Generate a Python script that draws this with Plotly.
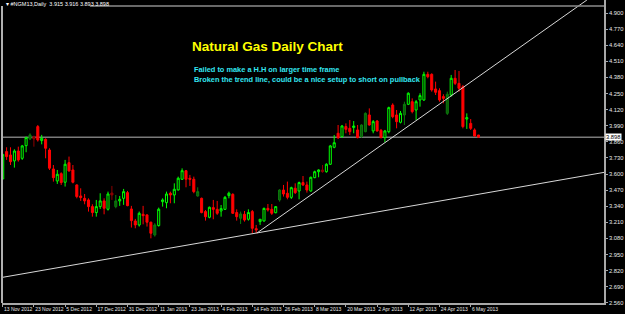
import plotly.graph_objects as go

# ---------------- data ----------------
bar_index = list(range(123))

open_ = [3.560, 3.781, 3.754, 3.706, 3.786, 3.727, 3.829, 3.883, 3.902, 3.983,
         3.870, 3.880, 3.794, 3.641, 3.544, 3.603, 3.534, 3.692, 3.633, 3.512,
         3.423, 3.404, 3.391, 3.337, 3.289, 3.337, 3.383, 3.316, 3.447, 3.337,
         3.383, 3.404, 3.450, 3.318, 3.221, 3.189, 3.275, 3.270, 3.211, 3.108,
         3.184, 3.377, 3.369, 3.445, 3.431, 3.472, 3.558, 3.627, 3.566, 3.558,
         3.423, 3.404, 3.297, 3.251, 3.329, 3.315, 3.302, 3.315, 3.426, 3.436,
         3.289, 3.243, 3.275, 3.235, 3.297, 3.159, 3.216, 3.221, 3.323, 3.315,
         3.288, 3.391, 3.471, 3.445, 3.412, 3.485, 3.463, 3.531, 3.512, 3.463,
         3.571, 3.619, 3.633, 3.619, 3.679, 3.816, 3.929, 3.902, 3.983, 3.969,
         3.975, 3.956, 3.902, 3.942, 4.077, 3.948, 4.028, 3.953, 3.894, 3.942,
         4.157, 4.077, 4.018, 4.077, 4.163, 4.184, 4.117, 4.198, 4.198, 4.405,
         4.405, 4.287, 4.273, 4.225, 4.090, 4.238, 4.373, 4.332, 4.305, 4.044,
         4.009, 3.956, 3.915]
high = [3.759, 3.816, 3.816, 3.800, 3.821, 3.835, 3.902, 3.929, 3.910, 3.996,
        3.916, 3.889, 3.808, 3.673, 3.633, 3.614, 3.714, 3.741, 3.673, 3.517,
        3.485, 3.439, 3.404, 3.356, 3.391, 3.445, 3.404, 3.458, 3.504, 3.431,
        3.423, 3.480, 3.464, 3.343, 3.238, 3.297, 3.343, 3.275, 3.216, 3.203,
        3.329, 3.404, 3.458, 3.458, 3.525, 3.579, 3.646, 3.633, 3.593, 3.579,
        3.493, 3.410, 3.310, 3.337, 3.391, 3.383, 3.350, 3.423, 3.458, 3.445,
        3.315, 3.297, 3.302, 3.315, 3.310, 3.189, 3.237, 3.329, 3.358, 3.358,
        3.342, 3.477, 3.512, 3.539, 3.498, 3.525, 3.539, 3.584, 3.539, 3.579,
        3.627, 3.638, 3.673, 3.687, 3.835, 3.915, 3.996, 3.996, 4.009, 4.036,
        4.028, 3.996, 4.001, 4.098, 4.130, 4.036, 4.036, 3.964, 3.956, 4.144,
        4.171, 4.117, 4.109, 4.184, 4.260, 4.211, 4.198, 4.252, 4.426, 4.426,
        4.413, 4.346, 4.292, 4.244, 4.265, 4.400, 4.440, 4.432, 4.319, 4.090,
        4.044, 3.969, 3.916]
low = [3.560, 3.714, 3.673, 3.652, 3.700, 3.714, 3.776, 3.875, 3.821, 3.862,
       3.840, 3.727, 3.633, 3.539, 3.520, 3.512, 3.499, 3.620, 3.525, 3.404,
       3.383, 3.356, 3.297, 3.256, 3.256, 3.318, 3.275, 3.305, 3.391, 3.324,
       3.343, 3.351, 3.340, 3.168, 3.162, 3.176, 3.194, 3.176, 3.081, 3.095,
       3.176, 3.337, 3.324, 3.364, 3.364, 3.466, 3.552, 3.493, 3.504, 3.445,
       3.418, 3.283, 3.224, 3.243, 3.235, 3.270, 3.256, 3.310, 3.404, 3.278,
       3.224, 3.197, 3.216, 3.224, 3.122, 3.122, 3.189, 3.216, 3.297, 3.270,
       3.283, 3.377, 3.418, 3.396, 3.399, 3.439, 3.396, 3.504, 3.450, 3.458,
       3.566, 3.574, 3.611, 3.611, 3.673, 3.808, 3.883, 3.894, 3.929, 3.915,
       3.929, 3.888, 3.894, 3.937, 3.991, 3.929, 3.942, 3.888, 3.856, 3.929,
       4.050, 3.969, 4.009, 3.996, 4.157, 4.090, 4.036, 4.144, 4.190, 4.373,
       4.265, 4.238, 4.184, 4.171, 4.077, 4.225, 4.319, 4.265, 3.969, 3.964,
       3.956, 3.902, 3.893]
close = [3.759, 3.741, 3.700, 3.786, 3.714, 3.827, 3.894, 3.916, 3.883, 3.875,
         3.889, 3.808, 3.647, 3.571, 3.598, 3.531, 3.679, 3.625, 3.534, 3.418,
         3.410, 3.383, 3.337, 3.289, 3.337, 3.383, 3.324, 3.439, 3.431, 3.383,
         3.396, 3.458, 3.345, 3.224, 3.189, 3.283, 3.264, 3.211, 3.122, 3.189,
         3.316, 3.391, 3.439, 3.431, 3.477, 3.566, 3.627, 3.558, 3.558, 3.458,
         3.458, 3.289, 3.256, 3.332, 3.315, 3.283, 3.321, 3.412, 3.445, 3.283,
         3.256, 3.278, 3.229, 3.289, 3.162, 3.149, 3.235, 3.323, 3.310, 3.283,
         3.337, 3.471, 3.439, 3.412, 3.490, 3.450, 3.531, 3.512, 3.471, 3.574,
         3.619, 3.633, 3.619, 3.679, 3.827, 3.853, 3.894, 3.988, 3.961, 3.942,
         3.988, 3.894, 3.996, 4.090, 3.996, 4.023, 3.948, 3.894, 3.948, 4.136,
         4.063, 4.023, 4.090, 4.163, 4.252, 4.104, 4.184, 4.233, 4.405, 4.386,
         4.279, 4.260, 4.198, 4.211, 4.244, 4.373, 4.332, 4.292, 3.983, 4.055,
         3.969, 3.907, 3.898]

# bars drawn in the dimmer colour in the reference
muted_bars = [7, 8, 28, 29, 39, 50, 61, 71, 82, 92, 93, 103, 114]

tick_index = [0, 8, 16, 24, 32, 40, 48, 56, 64, 72, 80, 88, 96, 104, 112, 120]
tick_dates = ["13 Nov 2012", "23 Nov 2012", "5 Dec 2012", "17 Dec 2012",
              "31 Dec 2012", "11 Jan 2013", "23 Jan 2013", "4 Feb 2013",
              "14 Feb 2013", "26 Feb 2013", "8 Mar 2013", "20 Mar 2013",
              "2 Apr 2013", "12 Apr 2013", "24 Apr 2013", "6 May 2013"]

price_ticks = [2.560, 2.690, 2.820, 2.950, 3.080, 3.210, 3.340, 3.470, 3.600,
               3.730, 3.860, 3.990, 4.120, 4.250, 4.380, 4.510, 4.640, 4.770,
               4.900]

# user-drawn trend lines (anchor points: bar index, price)
steep_line_index = [65.2, 149.8]
steep_line_price = [3.124, 5.005]
base_line_index = [-1.0, 155.0]
base_line_price = [2.761, 3.618]

bid_price = 3.898
symbol_header = "▾ #NGM13,Daily  3.915 3.916 3.893 3.898"
chart_title = "Natural Gas Daily Chart"
note_lines = ["Failed to make a H.H on larger time frame",
              "Broken the trend line, could be a nice setup to short on pullback"]

# ---------------- figure ----------------
FONT = "Liberation Sans"
AXIS_GRAY = "#a8a8a8"

normal = [i for i in bar_index if i not in muted_bars]
muted = [i for i in bar_index if i in muted_bars]


def pick(arr, idx):
    return [arr[i] for i in idx]


fig = go.Figure()
fig.add_trace(go.Candlestick(
    x=normal, open=pick(open_, normal), high=pick(high, normal),
    low=pick(low, normal), close=pick(close, normal),
    increasing=dict(line=dict(color="#00ff00", width=1), fillcolor="#000000"),
    decreasing=dict(line=dict(color="#ff0000", width=1), fillcolor="#ff0000"),
    whiskerwidth=0, showlegend=False, hoverinfo="skip"))
fig.add_trace(go.Candlestick(
    x=muted, open=pick(open_, muted), high=pick(high, muted),
    low=pick(low, muted), close=pick(close, muted),
    increasing=dict(line=dict(color="#0c7c0c", width=1), fillcolor="#0a5a0a"),
    decreasing=dict(line=dict(color="#8c0000", width=1), fillcolor="#8c0000"),
    whiskerwidth=0, showlegend=False, hoverinfo="skip"))

for xs, ys in [(steep_line_index, steep_line_price), (base_line_index, base_line_price)]:
    fig.add_trace(go.Scatter(x=xs, y=ys, mode="lines",
                             line=dict(color="#d8d8d8", width=1),
                             showlegend=False, hoverinfo="skip"))

shapes = [
    # bid line
    dict(type="line", xref="paper", yref="y", x0=0, x1=1, y0=bid_price, y1=bid_price,
         line=dict(color="#7a7a7a", width=1.5), layer="below"),
    # left border
    dict(type="line", xref="paper", yref="paper", x0=0, x1=0, y0=0, y1=0.98,
         line=dict(color="#b0b0b0", width=2)),
    # top border line
    dict(type="line", xref="paper", yref="paper", x0=0.146, x1=1, y0=0.980, y1=0.980,
         line=dict(color="#8c8c8c", width=1.5)),
]

annotations = [
    dict(xref="paper", yref="y", x=1, y=bid_price, xanchor="left", yanchor="middle",
         xshift=1, text=f"{bid_price:.3f}", showarrow=False, bgcolor="#ffffff",
         borderpad=0, font=dict(family=FONT, size=5.8, color="#000000")),
    dict(xref="paper", yref="paper", x=0.0, y=0.987, xanchor="left", yanchor="middle",
         xshift=2, text=symbol_header, showarrow=False,
         font=dict(family=FONT, size=5.5, color="#ffffff")),
    dict(xref="paper", yref="paper", x=0.312, y=0.845, xanchor="left", yanchor="middle",
         text=f"<b>{chart_title}</b>", showarrow=False,
         font=dict(family=FONT, size=13.5, color="#ffff00")),
    dict(xref="paper", yref="paper", x=0.3156, y=0.769, xanchor="left", yanchor="middle",
         text=f"<b>{note_lines[0]}</b>", showarrow=False,
         font=dict(family=FONT, size=7.4, color="#33e6f0")),
    dict(xref="paper", yref="paper", x=0.3156, y=0.736, xanchor="left", yanchor="middle",
         text=f"<b>{note_lines[1]}</b>", showarrow=False,
         font=dict(family=FONT, size=7.4, color="#33e6f0")),
]

fig.update_layout(
    width=625, height=314,
    margin=dict(l=2, r=21, t=0, b=11, autoexpand=False),
    paper_bgcolor="#000000", plot_bgcolor="#000000",
    showlegend=False,
    shapes=shapes, annotations=annotations,
    xaxis=dict(range=[-0.18, 154.18], showgrid=False, zeroline=False,
               showline=True, linecolor=AXIS_GRAY, linewidth=1.5,
               ticks="outside", ticklen=2, tickcolor=AXIS_GRAY,
               tickvals=tick_index, ticktext=tick_dates,
               ticklabelposition="outside right", tickangle=0,
               automargin=False,
               tickfont=dict(family=FONT, size=5.0, color="#e8e8e8"),
               rangeslider=dict(visible=False), fixedrange=True),
    yaxis=dict(range=[2.559, 5.005], side="right", showgrid=False, zeroline=False,
               showline=True, linecolor=AXIS_GRAY, linewidth=1.5,
               ticks="outside", ticklen=2, tickcolor=AXIS_GRAY,
               tickvals=price_ticks, ticktext=[f"{v:.3f}" for v in price_ticks],
               automargin=False,
               tickfont=dict(family=FONT, size=5.8, color="#e8e8e8"),
               fixedrange=True),
    boxgap=0.25,
)

fig.write_html("out.html")
